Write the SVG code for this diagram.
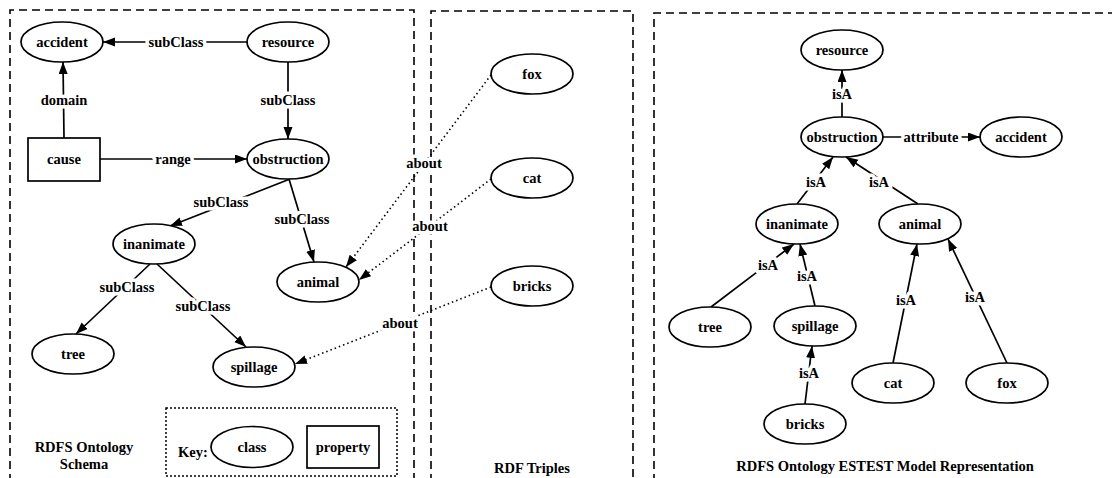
<svg xmlns="http://www.w3.org/2000/svg" width="1112" height="478" viewBox="0 0 1112 478">
  <defs>
    <marker id="arrow" markerUnits="userSpaceOnUse" markerWidth="13" markerHeight="10" refX="12" refY="4.5" orient="auto">
      <path d="M0,0 L12,4.5 L0,9 z" fill="#000"/>
    </marker>
  </defs>
  <style>
    text { font-family: "Liberation Serif", "Times New Roman", serif; font-weight: bold; font-size: 14.5px; fill: #000; text-anchor: middle; }
    .panel { fill: none; stroke: #000; stroke-width: 1.6; stroke-dasharray: 8 5; }
    .key { fill: none; stroke: #000; stroke-width: 1.5; stroke-dasharray: 2 2; }
    .node ellipse, .node rect { fill: #fff; stroke: #000; stroke-width: 1.7; }
    .edge { fill: none; stroke: #000; stroke-width: 1.7; marker-end: url(#arrow); }
    .about { fill: none; stroke: #000; stroke-width: 1.6; stroke-dasharray: 1.5 3; marker-end: url(#arrow); }
    .lbl { stroke: #fff; stroke-width: 7; paint-order: stroke; stroke-linejoin: round; }
  </style>
  <rect width="1112" height="478" fill="#fff"/>

  <!-- panel frames -->
  <g id="panels">
    <path class="panel" d="M10,482 V10 H414 V482"/>
    <path class="panel" d="M431,482 V11 H633 V482"/>
    <path class="panel" d="M654,482 V13 H1116"/>
    <rect class="key" x="166" y="408" width="231" height="68"/>
  </g>

  <!-- connectors -->
  <g id="connectors">
    <!-- schema -->
    <line class="edge" x1="247" y1="42" x2="103" y2="42"/>
    <line class="edge" x1="64" y1="138" x2="63" y2="62"/>
    <line class="edge" x1="288" y1="62" x2="288" y2="139"/>
    <line class="edge" x1="100" y1="159" x2="247" y2="159"/>
    <line class="edge" x1="290" y1="179" x2="170" y2="226"/>
    <line class="edge" x1="289" y1="179" x2="314" y2="262"/>
    <line class="edge" x1="150" y1="264" x2="76" y2="334"/>
    <line class="edge" x1="157" y1="264" x2="246" y2="347"/>
    <!-- triples -->
    <line class="about" x1="491" y1="75" x2="346" y2="267"/>
    <line class="about" x1="491" y1="179" x2="359" y2="280"/>
    <line class="about" x1="491" y1="287" x2="295" y2="364"/>
    <!-- model representation -->
    <line class="edge" x1="842" y1="117" x2="842" y2="70"/>
    <line class="edge" x1="883" y1="137" x2="980" y2="137"/>
    <line class="edge" x1="797" y1="204" x2="833" y2="157"/>
    <line class="edge" x1="918" y1="204" x2="846" y2="157"/>
    <line class="edge" x1="711" y1="307" x2="794" y2="244"/>
    <line class="edge" x1="815" y1="306" x2="800" y2="244"/>
    <line class="edge" x1="805" y1="404" x2="812" y2="346"/>
    <line class="edge" x1="893" y1="363" x2="917" y2="244"/>
    <line class="edge" x1="1007" y1="363" x2="948" y2="239"/>

    <!-- connector labels -->
    <text class="lbl" x="176" y="47">subClass</text>
    <text class="lbl" x="64" y="105">domain</text>
    <text class="lbl" x="288" y="105">subClass</text>
    <text class="lbl" x="173" y="164">range</text>
    <text class="lbl" x="221" y="207">subClass</text>
    <text class="lbl" x="302" y="224">subClass</text>
    <text class="lbl" x="127" y="292">subClass</text>
    <text class="lbl" x="203" y="311">subClass</text>
    <text class="lbl" x="424" y="168">about</text>
    <text class="lbl" x="430" y="231">about</text>
    <text class="lbl" x="400" y="328">about</text>
    <text class="lbl" x="842" y="99">isA</text>
    <text class="lbl" x="931" y="142">attribute</text>
    <text class="lbl" x="816" y="187">isA</text>
    <text class="lbl" x="879" y="187">isA</text>
    <text class="lbl" x="768" y="270">isA</text>
    <text class="lbl" x="807" y="281">isA</text>
    <text class="lbl" x="809" y="378">isA</text>
    <text class="lbl" x="906" y="305">isA</text>
    <text class="lbl" x="975" y="302">isA</text>
  </g>

  <!-- RDFS ontology schema -->
  <g id="schema-accident" class="node"><ellipse cx="62" cy="42" rx="41" ry="20"/><text x="62" y="47">accident</text></g>
  <g id="schema-resource" class="node"><ellipse cx="288" cy="42" rx="41" ry="20"/><text x="288" y="47">resource</text></g>
  <g id="schema-cause" class="node"><rect x="28" y="138" width="72" height="43"/><text x="64" y="164">cause</text></g>
  <g id="schema-obstruction" class="node"><ellipse cx="288" cy="159" rx="41" ry="20"/><text x="288" y="164">obstruction</text></g>
  <g id="schema-inanimate" class="node"><ellipse cx="154" cy="244" rx="41" ry="20"/><text x="154" y="249">inanimate</text></g>
  <g id="schema-animal" class="node"><ellipse cx="318" cy="282" rx="41" ry="20"/><text x="318" y="287">animal</text></g>
  <g id="schema-tree" class="node"><ellipse cx="73" cy="354" rx="41" ry="20"/><text x="73" y="359">tree</text></g>
  <g id="schema-spillage" class="node"><ellipse cx="254" cy="367" rx="41" ry="20"/><text x="254" y="372">spillage</text></g>

  <!-- key -->
  <g id="key">
    <text x="193" y="457">Key:</text>
    <g id="key-class" class="node"><ellipse cx="252" cy="447" rx="41" ry="20.5"/><text x="252" y="452">class</text></g>
    <g id="key-property" class="node"><rect x="307" y="426" width="72" height="42"/><text x="343" y="452">property</text></g>
  </g>

  <!-- RDF triples -->
  <g id="triple-fox" class="node"><ellipse cx="532" cy="74" rx="41" ry="20"/><text x="532" y="79">fox</text></g>
  <g id="triple-cat" class="node"><ellipse cx="532" cy="178" rx="41" ry="20"/><text x="532" y="183">cat</text></g>
  <g id="triple-bricks" class="node"><ellipse cx="532" cy="286" rx="41" ry="20"/><text x="532" y="291">bricks</text></g>

  <!-- ESTEST model representation -->
  <g id="model-resource" class="node"><ellipse cx="842" cy="50" rx="41" ry="20"/><text x="842" y="55">resource</text></g>
  <g id="model-obstruction" class="node"><ellipse cx="842" cy="137" rx="41" ry="20"/><text x="842" y="142">obstruction</text></g>
  <g id="model-accident" class="node"><ellipse cx="1021" cy="137" rx="41" ry="20"/><text x="1021" y="142">accident</text></g>
  <g id="model-inanimate" class="node"><ellipse cx="797" cy="224" rx="41" ry="20"/><text x="797" y="229">inanimate</text></g>
  <g id="model-animal" class="node"><ellipse cx="920" cy="224" rx="41" ry="20"/><text x="920" y="229">animal</text></g>
  <g id="model-tree" class="node"><ellipse cx="710" cy="327" rx="41" ry="20"/><text x="710" y="332">tree</text></g>
  <g id="model-spillage" class="node"><ellipse cx="815" cy="326" rx="41" ry="20"/><text x="815" y="331">spillage</text></g>
  <g id="model-bricks" class="node"><ellipse cx="805" cy="424" rx="41" ry="20"/><text x="805" y="429">bricks</text></g>
  <g id="model-cat" class="node"><ellipse cx="893" cy="383" rx="41" ry="20"/><text x="893" y="388">cat</text></g>
  <g id="model-fox" class="node"><ellipse cx="1007" cy="383" rx="41" ry="20"/><text x="1007" y="388">fox</text></g>

  <!-- panel captions -->
  <g id="captions">
    <text x="84" y="452">RDFS Ontology</text>
    <text x="84" y="469">Schema</text>
    <text x="532" y="473">RDF Triples</text>
    <text x="885" y="471">RDFS Ontology ESTEST Model Representation</text>
  </g>
</svg>
